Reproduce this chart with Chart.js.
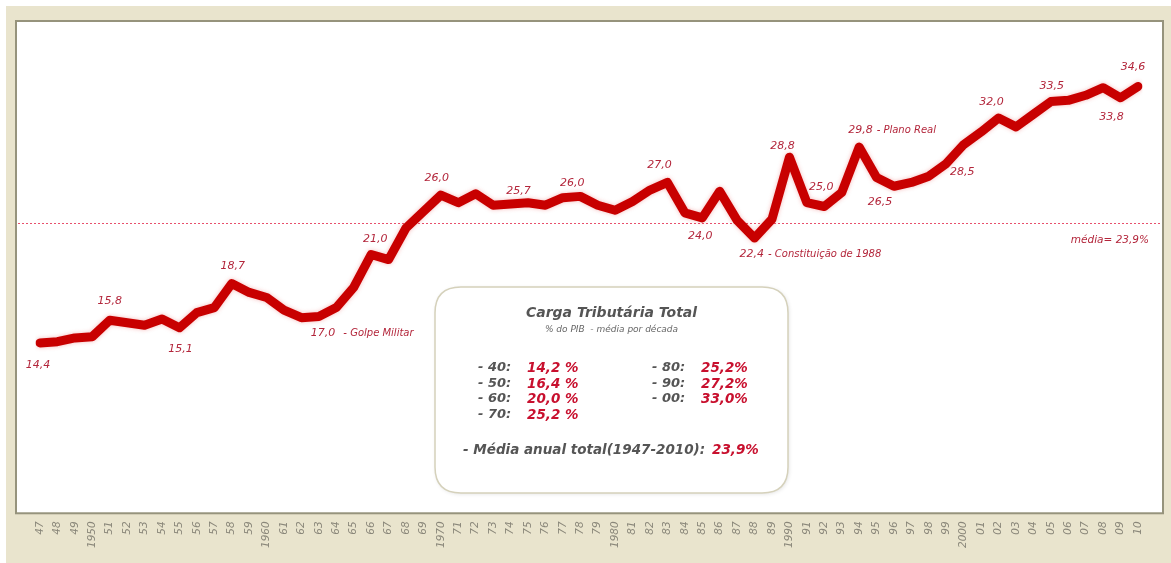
<!DOCTYPE html>
<html lang="pt-BR">
<head>
<meta charset="utf-8">
<title>Carga Tributária Total</title>
<script src="https://cdn.jsdelivr.net/npm/chart.js@4"></script>
<style>
  html, body { margin: 0; padding: 0; background: #fff; }
  #wrap { width: 1171px; height: 563px; }
</style>
</head>
<body>
<div id="wrap"><canvas id="grafico"></canvas></div>
<script>
// Carga tributária total, % do PIB, 1947-2010
const rotulosEixo = ['47','48','49','1950','51','52','53','54','55','56','57','58','59',
  '1960','61','62','63','64','65','66','67','68','69',
  '1970','71','72','73','74','75','76','77','78','79',
  '1980','81','82','83','84','85','86','87','88','89',
  '1990','91','92','93','94','95','96','97','98','99',
  '2000','01','02','03','04','05','06','07','08','09','10'];

const cargaTotal = [14.4, 14.5, 14.8, 14.9, 16.2, 16.0, 15.8, 16.3, 15.6, 16.8,
  17.2, 19.1, 18.4, 18.0, 17.0, 16.4, 16.5, 17.2, 18.8, 21.4,
  21.0, 23.5, 24.8, 26.1, 25.5, 26.2, 25.3, 25.4, 25.5, 25.3,
  25.9, 26.0, 25.3, 24.9, 25.6, 26.5, 27.1, 24.7, 24.3, 26.4,
  24.1, 22.7, 24.2, 29.1, 25.5, 25.2, 26.3, 29.9, 27.5, 26.8,
  27.1, 27.6, 28.6, 30.1, 31.1, 32.2, 31.5, 32.5, 33.5, 33.6,
  34.0, 34.6, 33.8, 34.7];

const mediaTotal = 23.9;

// médias por década (texto da caixa)
const decadas = ['40', '50', '60', '70', '80', '90', '00'];
const mediaDecada = ['14,2 %', '16,4 %', '20,0 %', '25,2 %', '25,2%', '27,2%', '33,0%'];

// rótulos sobre a linha: índice do ano, valor, nota, deslocamento
const anotacoes = [
  { i: 0,  t: '14,4', dx: -2, dy: 22 },
  { i: 4,  t: '15,8', dx: 0, dy: -19 },
  { i: 8,  t: '15,1', dx: 1, dy: 21 },
  { i: 11, t: '18,7', dx: 1, dy: -17 },
  { i: 16, t: '17,0', nota: '- Golpe Militar', gap: 8, dx: -8, dy: 17, align: 'left' },
  { i: 19, t: '21,0', dx: 4, dy: -15 },
  { i: 23, t: '26,0', dx: -4, dy: -17 },
  { i: 27, t: '25,7', dx: 8, dy: -13 },
  { i: 31, t: '26,0', dx: -8, dy: -13 },
  { i: 36, t: '27,0', dx: -8, dy: -17 },
  { i: 38, t: '24,0', dx: -2, dy: 18 },
  { i: 41, t: '22,4', nota: '- Constituição de 1988', gap: 4, dx: -15, dy: 16, align: 'left' },
  { i: 43, t: '28,8', dx: -7, dy: -11 },
  { i: 45, t: '25,0', dx: -3, dy: -19 },
  { i: 47, t: '29,8', nota: '- Plano Real', gap: 4, dx: -11, dy: -17, align: 'left' },
  { i: 49, t: '26,5', dx: -14, dy: 16 },
  { i: 52, t: '28,5', dx: 16, dy: 9 },
  { i: 55, t: '32,0', dx: -7, dy: -16 },
  { i: 58, t: '33,5', dx: 1, dy: -15 },
  { i: 62, t: '33,8', dx: -9, dy: 19 },
  { i: 63, t: '34,6', dx: -5, dy: -19 }
];

const FONTE = "'DejaVu Sans', Verdana, sans-serif";
const VERMELHO_TXT = '#b3263b';

function caixaArredondada(ctx, x, y, w, h, r) {
  ctx.beginPath();
  ctx.moveTo(x + r, y);
  ctx.lineTo(x + w - r, y);
  ctx.quadraticCurveTo(x + w, y, x + w, y + r);
  ctx.lineTo(x + w, y + h - r);
  ctx.quadraticCurveTo(x + w, y + h, x + w - r, y + h);
  ctx.lineTo(x + r, y + h);
  ctx.quadraticCurveTo(x, y + h, x, y + h - r);
  ctx.lineTo(x, y + r);
  ctx.quadraticCurveTo(x, y, x + r, y);
  ctx.closePath();
}

// fundo bege, moldura branca e linha da média
const fundoPlugin = {
  id: 'fundo',
  beforeDraw(chart) {
    const { ctx, chartArea: a, width, height } = chart;
    ctx.save();
    ctx.fillStyle = '#ffffff';
    ctx.fillRect(0, 0, width, height);
    ctx.fillStyle = '#e9e4cd';
    ctx.fillRect(6, 6, width - 6, height - 6);

    const bx = a.left - 24, by = a.top - 1;
    const bw = a.right - a.left + 49, bh = a.bottom - a.top + 2;
    ctx.fillStyle = '#ffffff';
    ctx.fillRect(bx, by, bw, bh);
    ctx.strokeStyle = '#96937c';
    ctx.lineWidth = 2;
    ctx.strokeRect(bx, by, bw, bh);

    // linha pontilhada da média
    const ym = Math.round(chart.scales.y.getPixelForValue(mediaTotal)) + 0.5;
    ctx.strokeStyle = '#e8506c';
    ctx.lineWidth = 1;
    ctx.setLineDash([2, 2]);
    ctx.beginPath();
    ctx.moveTo(bx + 2, ym);
    ctx.lineTo(bx + bw - 2, ym);
    ctx.stroke();
    ctx.setLineDash([]);

    ctx.font = 'italic 10.5px ' + FONTE;
    ctx.fillStyle = VERMELHO_TXT;
    ctx.textAlign = 'right';
    ctx.textBaseline = 'middle';
    ctx.fillText('média= 23,9%', bx + bw - 14, ym + 17);
    ctx.restore();
  },
  beforeDatasetDraw(chart) {
    const ctx = chart.ctx;
    ctx.save();
    ctx.shadowColor = 'rgba(225, 60, 60, 0.35)';
    ctx.shadowBlur = 4;
  },
  afterDatasetDraw(chart) {
    chart.ctx.restore();
  },
  afterDatasetsDraw(chart) {
    const { ctx } = chart;
    const pts = chart.getDatasetMeta(0).data;
    ctx.save();
    ctx.fillStyle = VERMELHO_TXT;
    ctx.textBaseline = 'middle';
    anotacoes.forEach(an => {
      const p = pts[an.i];
      const x = p.x + an.dx, y = p.y + an.dy;
      ctx.font = 'italic 11px ' + FONTE;
      ctx.textAlign = an.align || 'center';
      ctx.fillText(an.t, x, y);
      if (an.nota) {
        const w = ctx.measureText(an.t).width;
        ctx.font = 'italic 10px ' + FONTE;
        ctx.textAlign = 'left';
        ctx.fillText(an.nota, x + w + an.gap, y);
      }
    });
    ctx.restore();
  }
};

// caixa com as médias por década
const caixaPlugin = {
  id: 'caixa',
  afterDraw(chart) {
    const { ctx, chartArea: a } = chart;
    const x = a.left + 395, y = a.top + 265, w = 353, h = 206;
    ctx.save();
    ctx.shadowColor = 'rgba(0, 0, 0, 0.12)';
    ctx.shadowBlur = 4;
    ctx.shadowOffsetX = 1;
    ctx.shadowOffsetY = 1;
    caixaArredondada(ctx, x, y, w, h, 26);
    ctx.fillStyle = '#ffffff';
    ctx.fill();
    ctx.shadowColor = 'transparent';
    ctx.strokeStyle = '#d5d1bb';
    ctx.lineWidth = 1.5;
    ctx.stroke();

    ctx.textBaseline = 'middle';
    ctx.textAlign = 'center';
    ctx.fillStyle = '#555555';
    ctx.font = 'italic bold 14px ' + FONTE;
    ctx.fillText('Carga Tributária Total', x + w / 2, y + 26);
    ctx.font = 'italic 9px ' + FONTE;
    ctx.fillStyle = '#666666';
    ctx.fillText('% do PIB  - média por década', x + w / 2, y + 43);

    ctx.textAlign = 'left';
    const linhas = [81, 97, 112, 128];
    decadas.forEach((d, k) => {
      const col = k < 4 ? 0 : 1;
      const ly = y + linhas[col === 0 ? k : k - 4];
      const lx = x + (col === 0 ? 43 : 217);
      ctx.font = 'italic 600 13px ' + FONTE;
      ctx.fillStyle = '#555555';
      ctx.fillText('- ' + d + ':', lx, ly);
      ctx.font = 'italic bold 13.5px ' + FONTE;
      ctx.fillStyle = '#c8102e';
      ctx.fillText(mediaDecada[k], lx + 49, ly);
    });

    ctx.font = 'italic 600 13.5px ' + FONTE;
    ctx.fillStyle = '#555555';
    ctx.fillText('- Média anual total(1947-2010):', x + 28, y + 163);
    ctx.font = 'italic bold 13.5px ' + FONTE;
    ctx.fillStyle = '#c8102e';
    ctx.fillText('23,9%', x + 277, y + 163);
    ctx.restore();
  }
};

const ctx = document.getElementById('grafico').getContext('2d');
new Chart(ctx, {
  type: 'line',
  data: {
    labels: rotulosEixo,
    datasets: [{
      label: 'Carga Tributária Total',
      data: cargaTotal,
      borderColor: '#c80000',
      borderWidth: 9,
      borderJoinStyle: 'round',
      borderCapStyle: 'round',
      pointRadius: 0,
      tension: 0,
      fill: false
    }]
  },
  options: {
    responsive: true,
    maintainAspectRatio: false,
    animation: false,
    layout: { padding: { left: 40, right: 33, top: 22, bottom: 6 } },
    plugins: {
      legend: { display: false },
      tooltip: { enabled: false }
    },
    scales: {
      x: {
        offset: false,
        grid: { display: false, drawTicks: false },
        border: { display: false },
        ticks: {
          autoSkip: false,
          minRotation: 90,
          maxRotation: 90,
          padding: 9,
          color: '#8a877a',
          font: { family: FONTE, size: 10.5, style: 'italic' }
        }
      },
      y: {
        display: false,
        min: 1,
        max: 39.8
      }
    }
  },
  plugins: [fundoPlugin, caixaPlugin]
});
</script>
</body>
</html>
